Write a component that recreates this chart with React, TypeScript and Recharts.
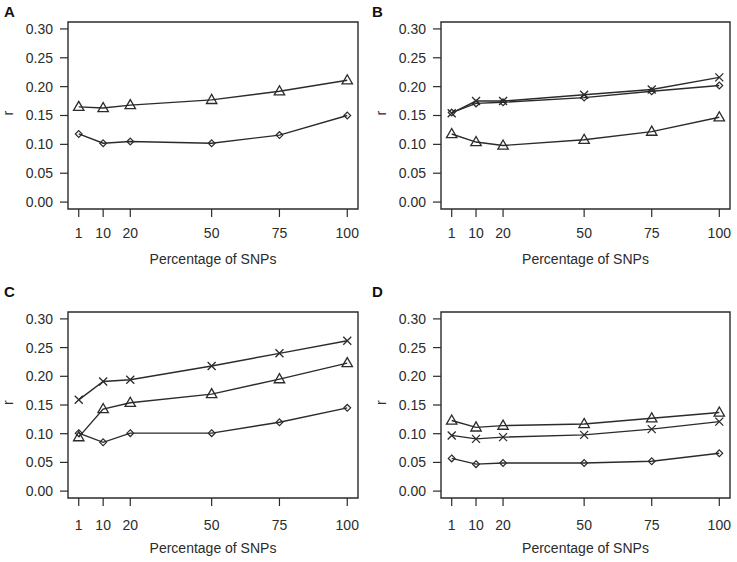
import { LineChart, Line, XAxis, YAxis, ReferenceArea } from "recharts";

// percentage of SNPs used (x categories)
const pct = [1, 10, 20, 50, 75, 100];
const yTicks = [0, 0.05, 0.1, 0.15, 0.2, 0.25, 0.3];

// panel A
const aTriangle = [0.165, 0.163, 0.168, 0.177, 0.192, 0.211];
const aDiamond = [0.118, 0.102, 0.105, 0.102, 0.116, 0.15];
// panel B
const bCross = [0.154, 0.175, 0.175, 0.186, 0.195, 0.216];
const bDiamond = [0.155, 0.171, 0.173, 0.181, 0.192, 0.202];
const bTriangle = [0.118, 0.104, 0.098, 0.108, 0.122, 0.147];
// panel C
const cCross = [0.159, 0.191, 0.194, 0.218, 0.24, 0.262];
const cTriangle = [0.094, 0.143, 0.154, 0.169, 0.195, 0.223];
const cDiamond = [0.101, 0.085, 0.101, 0.101, 0.12, 0.145];
// panel D
const dTriangle = [0.123, 0.111, 0.114, 0.117, 0.127, 0.137];
const dCross = [0.097, 0.091, 0.094, 0.098, 0.108, 0.121];
const dDiamond = [0.057, 0.047, 0.049, 0.049, 0.052, 0.066];

const INK = "#2b2b2b";
const FONT = "'Liberation Sans', Arial, sans-serif";
const X_DOMAIN: [number, number] = [-2.96, 103.96];
const Y_DOMAIN: [number, number] = [-0.012, 0.312];

type Shape = "triangle" | "diamond" | "cross";

function marker(shape: Shape) {
  return (p: any) => {
    const { cx, cy, index } = p;
    const k = `${shape}-${index}`;
    if (cx == null || cy == null) return <g key={k} />;
    if (shape === "triangle") {
      const d = `M${cx},${cy - 5.5} L${cx + 5.2},${cy + 3.6} L${cx - 5.2},${cy + 3.6} Z`;
      return <path key={k} d={d} fill="none" stroke={INK} strokeWidth={1.3} />;
    }
    if (shape === "diamond") {
      const s = 3.4;
      const d = `M${cx},${cy - s} L${cx + s},${cy} L${cx},${cy + s} L${cx - s},${cy} Z`;
      return <path key={k} d={d} fill="none" stroke={INK} strokeWidth={1.2} />;
    }
    const s = 4;
    const d = `M${cx - s},${cy - s} L${cx + s},${cy + s} M${cx - s},${cy + s} L${cx + s},${cy - s}`;
    return <path key={k} d={d} fill="none" stroke={INK} strokeWidth={1.3} />;
  };
}

type Series = { values: number[]; shape: Shape };

type PanelProps = {
  letter: string;
  px: number;
  py: number;
  box: { l: number; t: number; r: number; b: number };
  xTickGap: number;
  series: Series[];
};

const W = 369;
const H = 280;
const Y_W = 60;
const X_H = 60;

function Panel({ letter, px, py, box, xTickGap, series }: PanelProps) {
  const rows = pct.map((p, i) => {
    const row: Record<string, number> = { pct: p };
    series.forEach((s, j) => (row[`s${j}`] = s.values[i]));
    return row;
  });
  const margin = {
    top: box.t - py,
    left: box.l - px - Y_W,
    right: px + W - box.r,
    bottom: py + H - X_H - box.b,
  };
  const tick = { fontSize: 14, fill: INK, fontFamily: FONT };

  return (
    <div style={{ position: "absolute", left: px, top: py, width: W, height: H }}>
      <div
        style={{
          position: "absolute",
          left: 4,
          top: 4,
          fontFamily: FONT,
          fontWeight: "bold",
          fontSize: 15,
          color: "#111",
          lineHeight: "16px",
        }}
      >
        {letter}
      </div>
      <LineChart width={W} height={H} data={rows} margin={margin}>
        <XAxis
          dataKey="pct"
          type="number"
          domain={X_DOMAIN}
          ticks={pct}
          interval={0}
          allowDataOverflow
          axisLine={false}
          tickLine={{ stroke: INK, strokeWidth: 1.2 }}
          tickSize={8}
          tickMargin={xTickGap}
          height={X_H}
          tick={tick}
          label={{ value: "Percentage of SNPs", position: "insideBottom", offset: 5, fill: INK, fontSize: 14, fontFamily: FONT }}
        />
        <YAxis
          type="number"
          domain={Y_DOMAIN}
          ticks={yTicks}
          allowDataOverflow
          axisLine={false}
          tickLine={{ stroke: INK, strokeWidth: 1.2 }}
          tickSize={8}
          tickMargin={7}
          width={Y_W}
          tick={tick}
          tickFormatter={(v: number) => v.toFixed(2)}
          label={{ value: "r", angle: -90, position: "insideLeft", offset: 0, fill: INK, fontSize: 14, fontFamily: FONT }}
        />
        <ReferenceArea
          x1={X_DOMAIN[0]}
          x2={X_DOMAIN[1]}
          y1={Y_DOMAIN[0]}
          y2={Y_DOMAIN[1]}
          fill="none"
          stroke={INK}
          strokeWidth={1.4}
          ifOverflow="visible"
        />
        {series.map((s, j) => (
          <Line
            key={j}
            type="linear"
            dataKey={`s${j}`}
            stroke={INK}
            strokeWidth={1.4}
            dot={marker(s.shape)}
            activeDot={false}
            isAnimationActive={false}
          />
        ))}
      </LineChart>
    </div>
  );
}

export default function App() {
  return (
    <div style={{ position: "fixed", left: 0, top: 0, width: 737, height: 562, background: "#fff" }}>
      <Panel
        letter="A"
        px={0}
        py={0}
        box={{ l: 68, t: 22, r: 358, b: 209 }}
        xTickGap={11}
        series={[
          { values: aTriangle, shape: "triangle" },
          { values: aDiamond, shape: "diamond" },
        ]}
      />
      <Panel
        letter="B"
        px={368}
        py={0}
        box={{ l: 441, t: 22, r: 730, b: 209 }}
        xTickGap={11}
        series={[
          { values: bCross, shape: "cross" },
          { values: bDiamond, shape: "diamond" },
          { values: bTriangle, shape: "triangle" },
        ]}
      />
      <Panel
        letter="C"
        px={0}
        py={280}
        box={{ l: 68, t: 312, r: 358, b: 498 }}
        xTickGap={14}
        series={[
          { values: cCross, shape: "cross" },
          { values: cTriangle, shape: "triangle" },
          { values: cDiamond, shape: "diamond" },
        ]}
      />
      <Panel
        letter="D"
        px={368}
        py={280}
        box={{ l: 441, t: 312, r: 730, b: 498 }}
        xTickGap={14}
        series={[
          { values: dTriangle, shape: "triangle" },
          { values: dCross, shape: "cross" },
          { values: dDiamond, shape: "diamond" },
        ]}
      />
    </div>
  );
}
